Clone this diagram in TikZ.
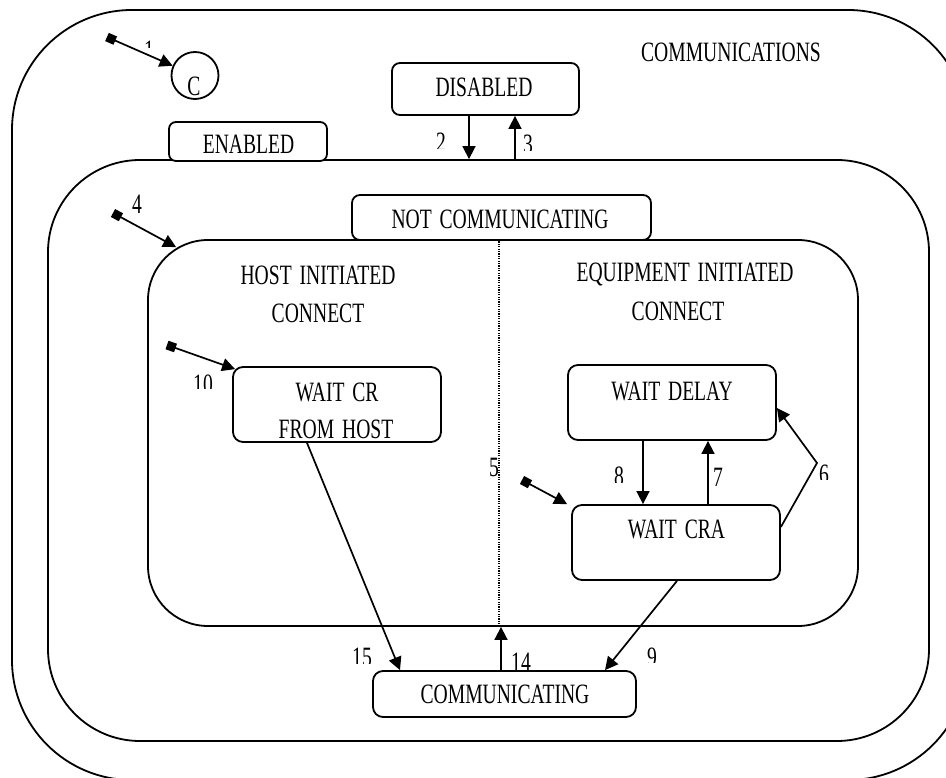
\documentclass[tikz,border=0pt]{standalone}
\usepackage{fontspec}
\setmainfont[FakeStretch=0.7,WordSpace=1.6]{Liberation Serif}
\usetikzlibrary{arrows.meta,calc}

\tikzset{
  region/.style={draw, line width=1.8pt, rounded corners=#1, inner sep=0pt},
  state/.style={draw, line width=1.8pt, rounded corners=10pt, inner sep=0pt},
  txt/.style={inner sep=0pt, font=\fontsize{28}{30}\selectfont, text height=18.5pt, text depth=0pt},
  num/.style={txt, anchor=north},
  trans/.style={line width=1.7pt, -{Triangle[length=13pt,width=13pt]}},
  initial/.style={line width=1.7pt, {Square[length=9pt,width=9pt]}-{Triangle[length=13pt,width=13pt]}},
  divider/.style={line width=1.2pt, dash pattern=on 1.2pt off 1.2pt},
}

% transition number whose lower part is hidden below a given height
\newcommand\cutnum[5]{%
  \begin{scope}
    \clip (#2-30,#3-5) rectangle (#2+30,#5);
    \node[num] (#1) at (#2,#3) {#4};
  \end{scope}}

\begin{document}
\begin{tikzpicture}[x=1pt,y=-1pt]
  \useasboundingbox (0,0) rectangle (946,778);
  \fill[white] (0,0) rectangle (946,778);
  \clip (0,0) rectangle (946,778);

  % nested superstates
  \node[region=120pt, minimum width=956pt, minimum height=770pt] (outer) at (490,395) {};
  \node[region=92pt, minimum width=881pt, minimum height=581pt] (mid) at (488.5,450.5) {};
  \node[region=60pt, minimum width=710pt, minimum height=386pt] (inner) at (503,433) {};

  \node[txt] (outerT) at (731,52.5) {COMMUNICATIONS};

  % top level states
  \node[draw, circle, line width=1.8pt, minimum size=47pt, inner sep=0pt] (cc) at (195,75.5) {};
  \node[txt] (ccT) at (194,86.5) {C};
  \node[state, rounded corners=8pt, minimum width=187pt, minimum height=52pt] (dis) at (485.5,89) {};
  \node[txt] (disT) at (484,87.5) {DISABLED};
  \node[state, rounded corners=7pt, fill=white, minimum width=158pt, minimum height=39pt] (ena) at (248,141.5) {};
  \node[txt] (enaT) at (248.5,144) {ENABLED};

  \node[state, rounded corners=8pt, fill=white, minimum width=299pt, minimum height=45pt] (notc) at (501.5,217.5) {};
  \node[txt] (notcT) at (500,219) {NOT\ COMMUNICATING};

  % connect sub-regions
  \node[txt] (hostT1) at (318,275) {HOST INITIATED};
  \node[txt] (hostT2) at (318,313) {CONNECT};
  \node[txt] (eqT1) at (685,272) {EQUIPMENT INITIATED};
  \node[txt] (eqT2) at (678,311) {CONNECT};

  \node[state, minimum width=208pt, minimum height=75pt] (wcr) at (337,404.5) {};
  \node[txt] (wcrT1) at (337,392.5) {WAIT CR};
  \node[txt] (wcrT2) at (336,429) {FROM HOST};

  \node[state, minimum width=208pt, minimum height=75pt] (dly) at (672,402.5) {};
  \node[txt] (dlyT) at (672,391) {WAIT DELAY};

  \node[state, minimum width=208pt, minimum height=75pt] (cra) at (676,542.5) {};
  \node[txt] (craT) at (676.5,529) {WAIT CRA};

  \node[state, minimum width=263pt, minimum height=46pt] (comm) at (504.5,694) {};
  \node[txt] (commT) at (505,694) {COMMUNICATING};

  % helper positions for connector ends
  \coordinate (c2) at (469,0);
  \coordinate (c3) at (515,0);
  \coordinate (c8) at (643,0);
  \coordinate (c7) at (708,0);
  \coordinate (c9a) at (677,0);
  \coordinate (c9b) at (605,0);
  \coordinate (c15a) at (307,0);
  \coordinate (c15b) at (400,0);
  \coordinate (c14) at (501,0);
  \coordinate (cdiv) at (499,0);
  \coordinate (y6a) at (0,527);
  \coordinate (y6b) at (0,408);
  \coordinate (k6) at (817,463);

  % orthogonal region divider
  \draw[divider] (cdiv |- inner.north) -- (cdiv |- inner.south);

  % transitions
  \draw[trans] (c2 |- dis.south) -- (c2 |- mid.north);
  \draw[trans] (c3 |- mid.north) -- (c3 |- dis.south);
  \draw[trans] (c8 |- dly.south) -- (c8 |- cra.north);
  \draw[trans] (c7 |- cra.north) -- (c7 |- dly.south);
  \draw[trans] (cra.east |- y6a) -- (k6) -- (dly.east |- y6b);
  \draw[trans] (c9a |- cra.south) -- (c9b |- comm.north);
  \draw[trans] (c15a |- wcr.south) -- (c15b |- comm.north);
  \draw[trans] (c14 |- comm.north) -- (c14 |- inner.south);

  % initial pseudostates
  \coordinate (s1) at (107,37);
  \coordinate (s4) at (113,213);
  \coordinate (e4) at ($(inner.north west)+(29,8)$);
  \coordinate (s10) at (167,345);
  \coordinate (e10) at ($(wcr.north west)+(3,3)$);
  \coordinate (sc) at (522,480);
  \coordinate (ec) at ($(cra.north west)+(-4,0)$);
  \draw[initial] (s1) -- (cc);
  \draw[initial] (s4) -- (e4);
  \draw[initial] (s10) -- (e10);
  \draw[initial] (sc) -- (ec);

  % transition numbers
  \cutnum{l1}{149}{41}{1}{48}
  \cutnum{l2}{441}{133}{2}{149}
  \cutnum{l3}{528}{135}{3}{151}
  \node[num] (l4) at (137,195) {4};
  \node[num] (l5) at (494,458) {5};
  \cutnum{l6}{824}{465}{6}{479}
  \node[num] (l7) at (718,468) {7};
  \cutnum{l8}{619}{467}{8}{482}
  \cutnum{l9}{652}{648}{9}{662}
  \cutnum{l10}{203}{375}{10}{388}
  \cutnum{l14}{521}{653}{14}{670}
  \cutnum{l15}{362}{648}{15}{663}
\end{tikzpicture}
\end{document}
